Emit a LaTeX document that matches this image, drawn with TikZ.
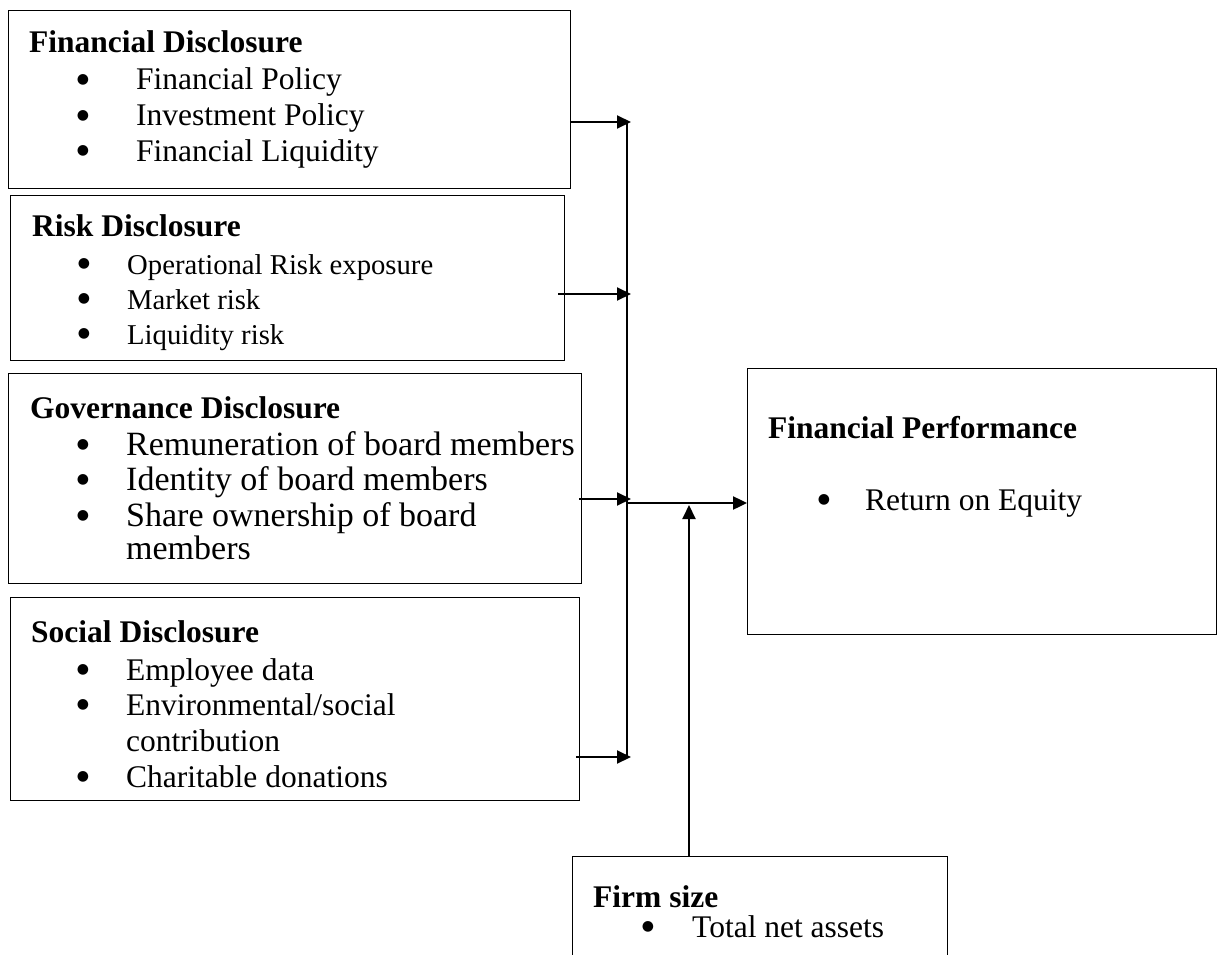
\documentclass[tikz,border=0pt]{standalone}
\usepackage{fontspec}
\setmainfont{Liberation Serif}
\newfontfamily\bulfont{DejaVu Sans}
\usetikzlibrary{arrows.meta}
\begin{document}
\begin{tikzpicture}[x=1pt,y=-1pt,
  box/.style={draw, line width=1.4pt, inner sep=0pt, anchor=north west},
  ttl/.style={anchor=base west, inner sep=0pt, font=\fontsize{31.5}{37}\selectfont\bfseries},
  itm/.style={anchor=base west, inner sep=0pt, font=\fontsize{31.5}{37}\selectfont},
  itmlg/.style={anchor=base west, inner sep=0pt, font=\fontsize{34}{40}\selectfont},
  itmsm/.style={anchor=base west, inner sep=0pt, font=\fontsize{28.7}{34}\selectfont},
  bul/.style={anchor=center, inner sep=0pt, yshift=10pt, font=\bulfont\fontsize{14}{14}\selectfont},
  arr/.style={line width=2pt, -{Triangle[length=14pt,width=13pt]}},
  trunk/.style={line width=1.6pt}]
\useasboundingbox (0,0) rectangle (1218,955);
\clip (0,0) rectangle (1218,955);
% boxes
\node[box, minimum width=562pt, minimum height=178pt] (fin) at (8,10) {};
\node[box, minimum width=554pt, minimum height=165pt] (risk) at (10,195) {};
\node[box, minimum width=573pt, minimum height=210pt] (gov) at (8,373) {};
\node[box, minimum width=569pt, minimum height=203pt] (soc) at (10,597) {};
\node[box, minimum width=469pt, minimum height=266pt] (fp) at (747,368) {};
\node[box, minimum width=375pt, minimum height=130pt] (firm) at (572,856) {};
% Financial Disclosure
\node[ttl] (finT) at (29,53) {Financial Disclosure};
\node[bul] (finB1) at (83,90) {●};
\node[itm] (finI1) at (136,90) {Financial Policy};
\node[bul] (finB2) at (83,126) {●};
\node[itm] (finI2) at (136,126) {Investment Policy};
\node[bul] (finB3) at (83,161) {●};
\node[itm] (finI3) at (136,161) {Financial Liquidity};
% Risk Disclosure
\node[ttl] (riskT) at (32,236) {Risk Disclosure};
\node[bul] (riskB1) at (84,274) {●};
\node[itmsm] (riskI1) at (127,274) {Operational Risk exposure};
\node[bul] (riskB2) at (84,309) {●};
\node[itmsm] (riskI2) at (127,309) {Market risk};
\node[bul] (riskB3) at (84,344) {●};
\node[itmsm] (riskI3) at (127,344) {Liquidity risk};
% Governance Disclosure
\node[ttl] (govT) at (30,418) {Governance Disclosure};
\node[bul] (govB1) at (83,455) {●};
\node[itmlg] (govI1) at (126,455) {Remuneration of board members};
\node[bul] (govB2) at (83,490) {●};
\node[itmlg] (govI2) at (126,490) {Identity of board members};
\node[bul] (govB3) at (83,526) {●};
\node[itmlg] (govI3) at (126,526) {Share ownership of board};
\node[itmlg] (govI3b) at (126,559) {members};
% Social Disclosure
\node[ttl] (socT) at (31,642) {Social Disclosure};
\node[bul] (socB1) at (83,680) {●};
\node[itm] (socI1) at (126,680) {Employee data};
\node[bul] (socB2) at (83,715) {●};
\node[itm] (socI2) at (126,715) {Environmental/social};
\node[itm] (socI2b) at (126,751) {contribution};
\node[bul] (socB3) at (83,787) {●};
\node[itm] (socI3) at (126,787) {Charitable donations};
% Financial Performance
\node[ttl] (fpT) at (768,438) {Financial Performance};
\node[bul] (fpB1) at (824,510) {●};
\node[itm] (fpI1) at (865,510) {Return on Equity};
% Firm size
\node[ttl] (firmT) at (593,907) {Firm size};
\node[bul] (firmB1) at (648,937) {●};
\node[itm] (firmI1) at (692,937) {Total net assets};
% connectors
\coordinate (t1) at (631,122);
\coordinate (t2) at (631,294);
\coordinate (t3) at (631,499);
\coordinate (t4) at (631,757);
\coordinate (trTop) at (627,122);
\coordinate (trBot) at (627,757);
\coordinate (jn) at (627,503);
\coordinate (fsEnd) at (689,505);
\draw[trunk] (trTop) -- (trBot);
\draw[arr] (fin.east |- t1) -- (t1);
\draw[arr] ([xshift=-7pt]risk.east |- t2) -- (t2);
\draw[arr] ([xshift=-3pt]gov.east |- t3) -- (t3);
\draw[arr] ([xshift=-4pt]soc.east |- t4) -- (t4);
\draw[arr, line width=2.4pt] (jn) -- (fp.west |- jn);
\draw[arr] (firm.north -| fsEnd) -- (fsEnd);
\end{tikzpicture}
\end{document}
